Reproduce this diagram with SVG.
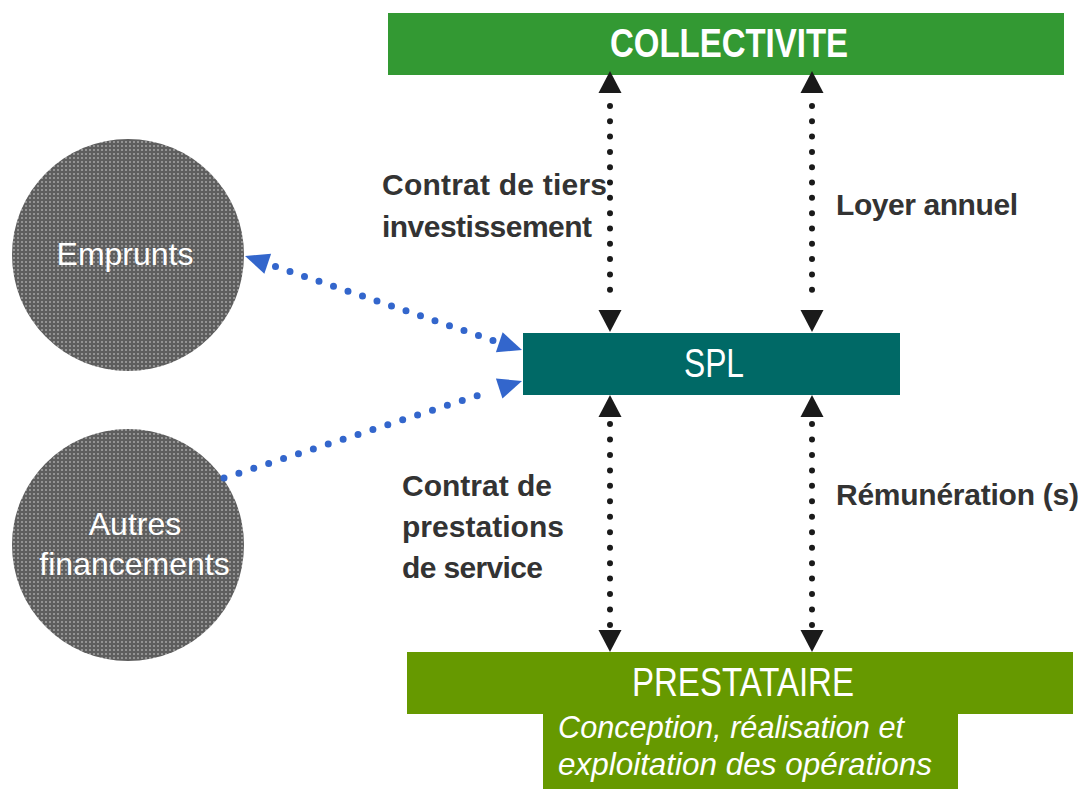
<svg xmlns="http://www.w3.org/2000/svg" xmlns:xlink="http://www.w3.org/1999/xlink" width="1085" height="789" viewBox="0 0 1085 789">
<style>
text{font-family:"Liberation Sans",Arial,sans-serif}
.title{fill:#fff;font-size:40px;text-anchor:middle}
.lbl{fill:#333;font-size:30px;font-weight:bold}
.circ{fill:#fff;font-size:32px;text-anchor:middle}
.sub{fill:#fff;font-size:32px;font-style:italic}
.bdot{stroke:#1a1a1a;stroke-width:6;stroke-linecap:round;fill:none}
.udot{stroke:#3366cc;stroke-width:7;stroke-linecap:round;fill:none}
</style>
<defs>
<pattern id="hatch" width="4" height="4" patternUnits="userSpaceOnUse">
<rect width="4" height="4" fill="#5e5e5e"/>
<rect x="1" y="1" width="2" height="2" fill="#939393"/>
</pattern>
<path id="ah" d="M-11.5,0 L11.5,0 L0,22 Z" fill="#1a1a1a"/>
<path id="bh" d="M0,0 L-24,-10.5 L-24,10.5 Z" fill="#3366cc"/>
</defs>
<rect width="1085" height="789" fill="#fff"/>

<g id="collectivite">
<rect x="388" y="13" width="676" height="62" fill="#339933"/>
<text class="title" x="729" y="57" font-weight="bold" textLength="238" lengthAdjust="spacingAndGlyphs">COLLECTIVITE</text>
</g>

<g id="spl">
<rect x="523" y="333" width="377" height="62" fill="#006966"/>
<text class="title" x="714" y="377" textLength="60" lengthAdjust="spacingAndGlyphs">SPL</text>
</g>

<g id="prestataire">
<rect x="407" y="652" width="666" height="62" fill="#669900"/>
<rect x="543" y="713" width="415" height="76" fill="#669900"/>
<text class="title" x="743" y="696" textLength="222" lengthAdjust="spacingAndGlyphs">PRESTATAIRE</text>
<text class="sub" x="558" y="738" textLength="346" lengthAdjust="spacingAndGlyphs">Conception, réalisation et</text>
<text class="sub" x="558" y="775" textLength="374" lengthAdjust="spacingAndGlyphs">exploitation des opérations</text>
</g>

<g id="emprunts">
<circle cx="128" cy="255" r="116" fill="url(#hatch)"/>
<text class="circ" x="125" y="265">Emprunts</text>
</g>

<g id="autres">
<circle cx="128" cy="545" r="116" fill="url(#hatch)"/>
<text class="circ" x="135" y="535">Autres</text>
<text class="circ" x="134.5" y="575">financements</text>
</g>

<g id="connectors">
<g id="c-tiers">
<line class="bdot" x1="610" y1="106" x2="610" y2="305" stroke-dasharray="0 15.31"/>
<use xlink:href="#ah" href="#ah" transform="translate(610,93) scale(1,-1)"/>
<use xlink:href="#ah" href="#ah" transform="translate(610,310)"/>
</g>
<g id="c-loyer">
<line class="bdot" x1="812" y1="106" x2="812" y2="305" stroke-dasharray="0 15.31"/>
<use xlink:href="#ah" href="#ah" transform="translate(812,93) scale(1,-1)"/>
<use xlink:href="#ah" href="#ah" transform="translate(812,310)"/>
</g>
<g id="c-prest">
<line class="bdot" x1="610" y1="424" x2="610" y2="625" stroke-dasharray="0 15.46"/>
<use xlink:href="#ah" href="#ah" transform="translate(610,417) scale(1,-1)"/>
<use xlink:href="#ah" href="#ah" transform="translate(610,630)"/>
</g>
<g id="c-remu">
<line class="bdot" x1="812" y1="424" x2="812" y2="625" stroke-dasharray="0 15.46"/>
<use xlink:href="#ah" href="#ah" transform="translate(812,417) scale(1,-1)"/>
<use xlink:href="#ah" href="#ah" transform="translate(812,630)"/>
</g>
<g id="c-emprunts">
<line class="udot" x1="275.5" y1="266.6" x2="493" y2="340.4" stroke-dasharray="0 15.31"/>
<use xlink:href="#bh" href="#bh" transform="translate(522,350) rotate(18.74)"/>
<use xlink:href="#bh" href="#bh" transform="translate(245,256) rotate(198.74)"/>
</g>
<g id="c-autres">
<line class="udot" x1="224" y1="478" x2="492" y2="390.8" stroke-dasharray="0 15.66"/>
<use xlink:href="#bh" href="#bh" transform="translate(522,381) rotate(-18.03)"/>
</g>
<text class="lbl" x="382" y="195" textLength="225">Contrat de tiers</text>
<text class="lbl" x="382" y="237" textLength="210">investissement</text>
<text class="lbl" x="836" y="215" textLength="182">Loyer annuel</text>
<text class="lbl" x="402" y="496" textLength="150">Contrat de</text>
<text class="lbl" x="402" y="537" textLength="162">prestations</text>
<text class="lbl" x="402" y="578" textLength="141">de service</text>
<text class="lbl" x="836" y="505" textLength="243">Rémunération (s)</text>
</g>
</svg>
